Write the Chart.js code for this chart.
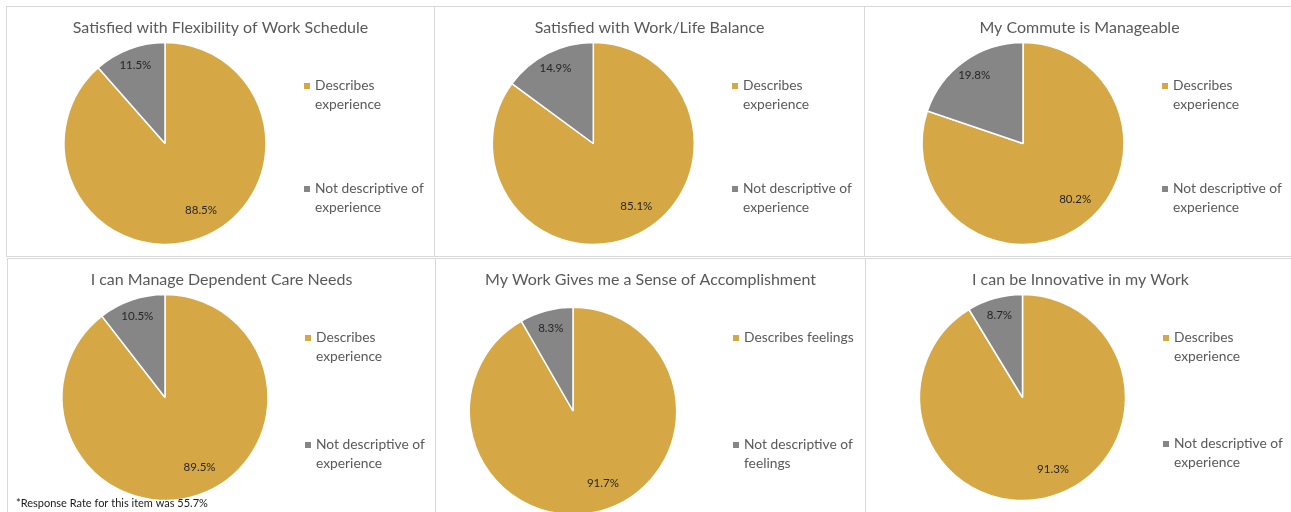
<!DOCTYPE html>
<html>
<head>
<meta charset="utf-8">
<script src="https://cdn.jsdelivr.net/npm/chart.js@4.4.1/dist/chart.umd.min.js"></script>
<style>
html,body{margin:0;padding:0;background:#fff;overflow:hidden;width:1291px;height:512px;}
.panel{position:absolute;box-sizing:border-box;border:1px solid #d9d9d9;background:#fff;overflow:hidden;}
.panel canvas{display:block;}
</style>
</head>
<body>
<script>
// ---------- DATA ----------
const chartTitles = [
  "Satisfied with Flexibility of Work Schedule",
  "Satisfied with Work/Life Balance",
  "My Commute is Manageable",
  "I can Manage Dependent Care Needs",
  "My Work Gives me a Sense of Accomplishment",
  "I can be Innovative in my Work"
];
const positiveLabels = [
  ["Describes", "experience"],
  ["Describes", "experience"],
  ["Describes", "experience"],
  ["Describes", "experience"],
  ["Describes feelings"],
  ["Describes", "experience"]
];
const negativeLabels = [
  ["Not descriptive of", "experience"],
  ["Not descriptive of", "experience"],
  ["Not descriptive of", "experience"],
  ["Not descriptive of", "experience"],
  ["Not descriptive of", "feelings"],
  ["Not descriptive of", "experience"]
];
const positiveValues = [88.5, 85.1, 80.2, 89.5, 91.7, 91.3];
const negativeValues = [11.5, 14.9, 19.8, 10.5, 8.3, 8.7];
const footnotes = ["", "", "", "*Response Rate for this item was 55.7%", "", ""];

// ---------- LAYOUT / STYLE ----------
const GOLD = "#D5A845";
const GREY = "#868686";
const FONT = "Lato, 'Open Sans', sans-serif";
const layout = [
  {left: 6,   top: 6,   width: 429, height: 251, cx: 165,   cy: 143.5, r: 101,   leg: [80, 183]},
  {left: 434, top: 6,   width: 431, height: 251, cx: 593.3, cy: 143.5, r: 101,   leg: [80, 183]},
  {left: 864, top: 6,   width: 431, height: 251, cx: 1023,  cy: 143.5, r: 101,   leg: [80, 183]},
  {left: 7,   top: 258, width: 429, height: 280, cx: 165,   cy: 397.5, r: 103,   leg: [80, 187]},
  {left: 435, top: 258, width: 431, height: 280, cx: 573,   cy: 411,   r: 103.7, leg: [80, 187]},
  {left: 865, top: 258, width: 431, height: 280, cx: 1022.5,cy: 397.5, r: 103,   leg: [80, 186]}
];

const annotate = {
  id: 'annotate',
  afterDatasetsDraw(chart, args, o) {
    const ctx = chart.ctx;
    const i = o.idx;
    const L = layout[i];
    ctx.save();
    // title
    ctx.fillStyle = "#595959";
    ctx.font = "16px " + FONT;
    ctx.textAlign = "center";
    ctx.textBaseline = "middle";
    ctx.fillText(chartTitles[i], L.width / 2 - 1, 22 - 1);
    // data labels
    const meta = chart.getDatasetMeta(0);
    const ds = chart.data.datasets[0].data;
    ctx.fillStyle = "#262626";
    ctx.font = "11.5px " + FONT;
    meta.data.forEach((arc, k) => {
      const p = arc.getProps(['x','y','startAngle','endAngle','outerRadius'], true);
      let mid = (p.startAngle + p.endAngle) / 2;
      let f = 0.83;
      if (ds[k] > 50) { mid -= 7.5 * Math.PI / 180; f = 0.755; }
      const x = p.x + Math.cos(mid) * p.outerRadius * f;
      const y = p.y + Math.sin(mid) * p.outerRadius * f;
      ctx.fillText(ds[k].toFixed(1) + "%", x, y);
    });
    // legend
    ctx.font = "13.8px " + FONT;
    ctx.textAlign = "left";
    const items = [[positiveLabels[i], GOLD], [negativeLabels[i], GREY]];
    items.forEach(([lines, col], k) => {
      const y0 = L.leg[k] - 1;
      ctx.fillStyle = col;
      ctx.fillRect(298 - 1, y0 - 3, 6, 6);
      ctx.fillStyle = "#595959";
      lines.forEach((t, j) => ctx.fillText(t, 309 - 1, y0 + j * 18.4));
    });
    // footnote
    if (footnotes[i]) {
      ctx.fillStyle = "#1a1a1a";
      ctx.font = "11px " + FONT;
      ctx.fillText(footnotes[i], 16 - L.left - 1, 503.3 - L.top - 1);
    }
    ctx.restore();
  }
};

layout.forEach((L, i) => {
  const div = document.createElement('div');
  div.className = 'panel';
  div.style.left = L.left + 'px';
  div.style.top = L.top + 'px';
  div.style.width = L.width + 'px';
  div.style.height = L.height + 'px';
  const cv = document.createElement('canvas');
  const W = L.width - 2, H = L.height - 2;
  cv.width = W; cv.height = H;
  cv.style.width = W + 'px'; cv.style.height = H + 'px';
  div.appendChild(cv);
  document.body.appendChild(div);
  const cx = L.cx - L.left - 1, cy = L.cy - L.top - 1, s = L.r + 3;
  new Chart(cv, {
    type: 'pie',
    data: {
      labels: [positiveLabels[i].join(' '), negativeLabels[i].join(' ')],
      datasets: [{
        data: [positiveValues[i], negativeValues[i]],
        backgroundColor: [GOLD, GREY],
        borderColor: '#ffffff',
        borderWidth: 1.5
      }]
    },
    options: {
      responsive: false,
      animation: false,
      devicePixelRatio: 1,
      radius: L.r,
      layout: {padding: {left: cx - s, right: W - cx - s, top: cy - s, bottom: Math.max(0, H - cy - s)}},
      plugins: {
        legend: {display: false},
        title: {display: false},
        tooltip: {enabled: false},
        annotate: {idx: i}
      }
    },
    plugins: [annotate]
  });
});
</script>
</body>
</html>
